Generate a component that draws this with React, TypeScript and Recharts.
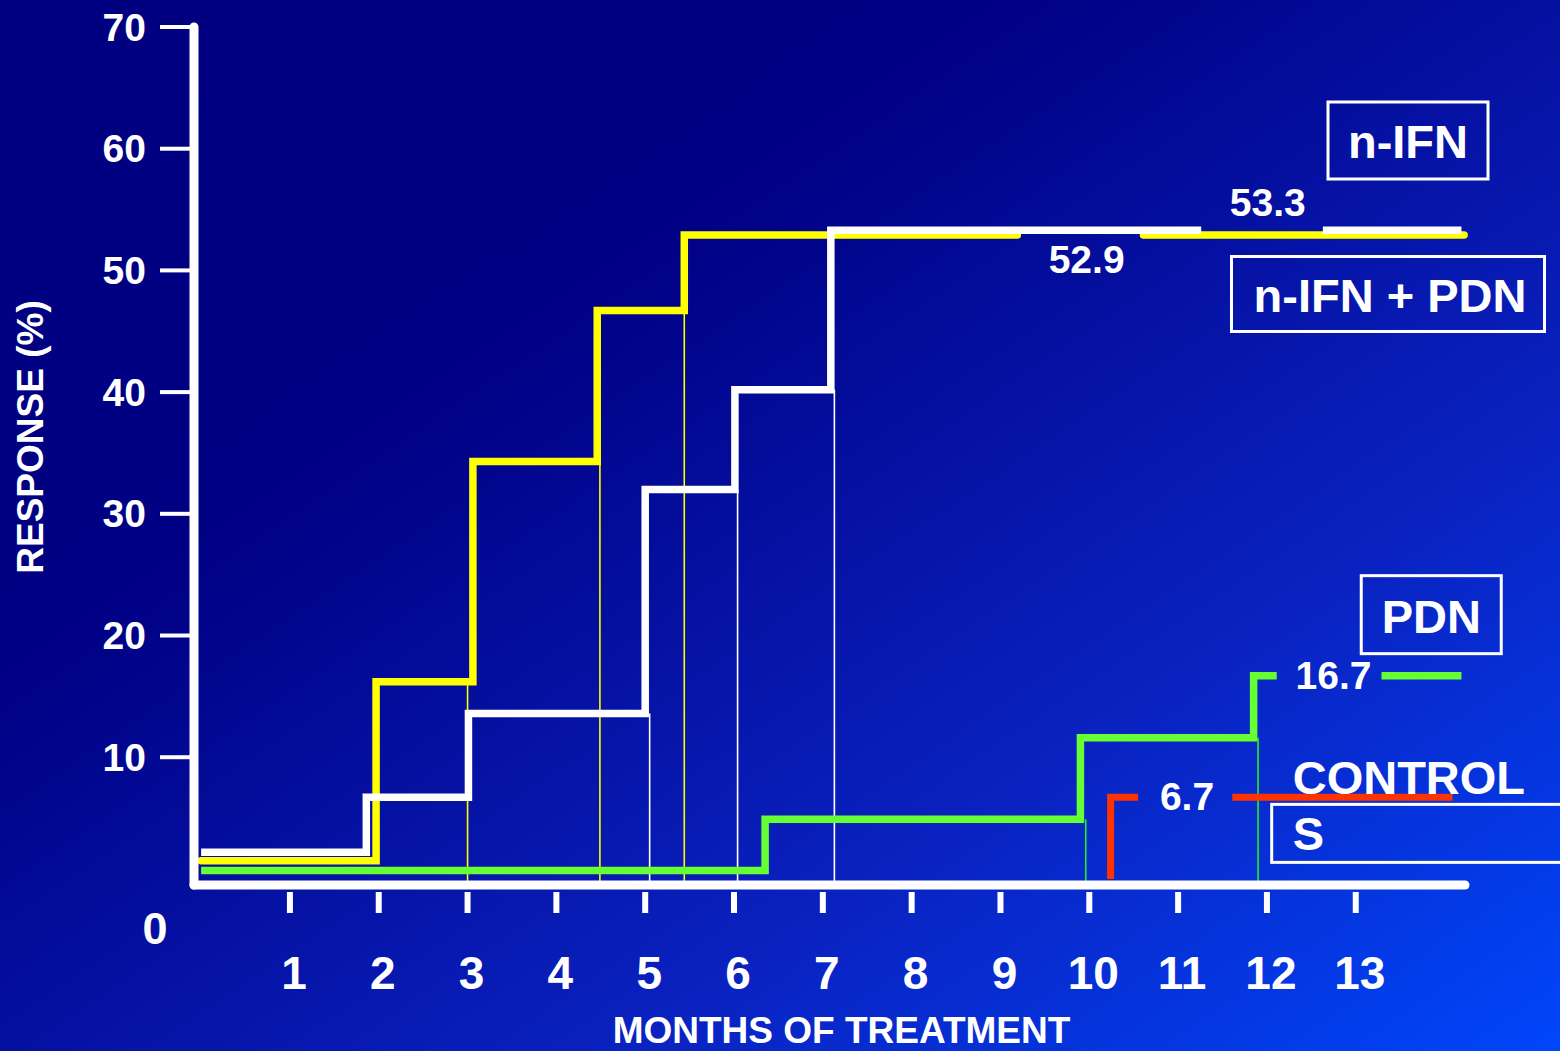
import React from 'react';
import { LineChart, Line, XAxis, YAxis, ReferenceLine, ReferenceDot, Label } from 'recharts';

const W = 1560;
const H = 1051;
const FONT = "'Liberation Sans', Arial, Helvetica, sans-serif";

// Axis ticks
const monthTicks = [1, 2, 3, 4, 5, 6, 7, 8, 9, 10, 11, 12, 13];
const responseTicks = [0, 10, 20, 30, 40, 50, 60, 70];

// Final response of each arm (%)
const nIfnFinal = 53.3;
const comboFinal = 52.9;
const pdnFinal = 16.7;
const controlFinal = 6.7;

// n-IFN (white) — cumulative response by month; null leaves room for the value label
const nIfnMonths = [0, 1.86, 3.01, 5.0, 6.01, 7.09, 11.26, 11.27, 12.63, 14.19];
const nIfnResponse = [2.2, 6.7, 13.6, 32.0, 40.2, nIfnFinal, nIfnFinal, null, nIfnFinal, nIfnFinal];

// n-IFN + PDN (yellow)
const comboMonths = [0, 1.97, 3.06, 4.46, 5.44, 9.19, 9.2, 10.61, 14.22];
const comboResponse = [1.5, 16.2, 34.3, 46.7, comboFinal, comboFinal, null, comboFinal, comboFinal];

// PDN (green)
const pdnMonths = [0, 6.35, 9.9, 11.85, 12.11, 12.12, 13.29, 14.19];
const pdnResponse = [0.7, 4.9, 11.6, pdnFinal, pdnFinal, null, pdnFinal, pdnFinal];

// Controls (red)
const controlMonths = [10.24, 10.24, 10.55, 10.56, 11.61, 14.09];
const controlResponse = [0, controlFinal, controlFinal, null, controlFinal, controlFinal];

// Thin guide lines dropped from the steps down to the month axis
const comboDropMonths = [3.0, 4.49, 5.44];
const comboDropLevels = [16.2, 34.3, 46.7];
const nIfnDropMonths = [5.05, 6.04, 7.13];
const nIfnDropLevels = [13.6, 32.0, 40.2];
const pdnDropMonths = [9.96, 11.9];
const pdnDropLevels = [4.9, 11.6];

const toPoints = (months: number[], values: (number | null)[]) =>
  months.map((month, i) => ({ month, response: values[i] }));

const WHITE = '#ffffff';
const YELLOW = '#ffff00';
const GREEN = '#66ff33';
const THIN_GREEN = '#22ee22';
const RED = '#ff3300';

const txt = {
  fill: WHITE,
  fontFamily: FONT,
  fontWeight: 700,
} as const;

const MonthTick = (props: any) => {
  const { x, y, payload } = props;
  return (
    <g>
      <line x1={x} x2={x} y1={y + 7} y2={y + 28} stroke={WHITE} strokeWidth={6} />
      <text {...txt} x={x + 4} y={y + 88} fontSize={46} textAnchor="middle" dominantBaseline="central">
        {payload.value}
      </text>
    </g>
  );
};

const ResponseTick = (props: any) => {
  const { x, y, payload } = props;
  if (payload.value === 0) {
    return (
      <text {...txt} x={x - 39} y={y + 50} fontSize={45} textAnchor="middle" dominantBaseline="central">
        0
      </text>
    );
  }
  return (
    <g>
      <line x1={x - 34} x2={x - 4} y1={y} y2={y} stroke={WHITE} strokeWidth={4} />
      <text {...txt} x={x - 48} y={y} fontSize={39} textAnchor="end" dominantBaseline="central">
        {payload.value}
      </text>
    </g>
  );
};

const XTitle = (props: any) => {
  const vb = props.viewBox || { x: 194, y: 885, width: 1271, height: 166 };
  return (
    <text {...txt} x={vb.x + vb.width / 2 + 12} y={vb.y + vb.height - 8} fontSize={37} textAnchor="middle">
      MONTHS OF TREATMENT
    </text>
  );
};

const YTitle = (props: any) => {
  const vb = props.viewBox || { x: 0, y: 27, width: 194, height: 858 };
  const cx = vb.x + 43;
  const cy = vb.y + vb.height / 2 - 19;
  return (
    <text {...txt} x={cx} y={cy} fontSize={37} textAnchor="middle" transform={`rotate(-90, ${cx}, ${cy})`}>
      RESPONSE (%)
    </text>
  );
};

const valueText = (text: string, dy: number) => (p: any) => (
  <text {...txt} x={p.cx} y={p.cy + dy} fontSize={39} textAnchor="middle" dominantBaseline="central">
    {text}
  </text>
);

const pdnBox = (p: any) => (
  <g>
    <rect x={p.cx - 70} y={p.cy - 100} width={140} height={78} fill="none" stroke={WHITE} strokeWidth={3} />
    <text {...txt} x={p.cx} y={p.cy - 43} fontSize={47} textAnchor="middle">
      PDN
    </text>
  </g>
);

const controlsLegend = (p: any) => (
  <g>
    <text {...txt} x={p.cx} y={p.cy - 3} fontSize={47}>
      CONTROL
    </text>
    <rect x={p.cx - 21} y={p.cy + 7} width={330} height={58} fill="none" stroke={WHITE} strokeWidth={3} />
    <text {...txt} x={p.cx} y={p.cy + 53} fontSize={47}>
      S
    </text>
  </g>
);

const drops = (months: number[], levels: number[], color: string, key: string) =>
  months.map((m, i) => (
    <ReferenceLine
      key={`${key}-${i}`}
      segment={[
        { x: m, y: levels[i] },
        { x: m, y: -0.5 },
      ]}
      stroke={color}
      strokeWidth={1.6}
      ifOverflow="visible"
    />
  ));

const BG = 'linear-gradient(to bottom right, #000080 0%, #000084 32%, #0a22c0 70%, #0046fa 100%)';

export default function App() {
  return (
    <div style={{ position: 'absolute', left: 0, top: 0, width: W, height: H, background: BG, overflow: 'hidden' }}>
      <LineChart width={W} height={H} margin={{ top: 27, right: 95, bottom: 0, left: 0 }}>
        <XAxis
          type="number"
          dataKey="month"
          domain={[-0.08, 14.23]}
          ticks={monthTicks}
          interval={0}
          height={166}
          tick={(p: any) => <MonthTick {...p} />}
          tickLine={false}
          tickSize={0}
          tickMargin={0}
          axisLine={{ stroke: WHITE, strokeWidth: 9, strokeLinecap: 'round' }}
        >
          <Label content={(p: any) => <XTitle {...p} />} />
        </XAxis>
        <YAxis
          type="number"
          domain={[-0.5, 70]}
          ticks={responseTicks}
          interval={0}
          width={194}
          tick={(p: any) => <ResponseTick {...p} />}
          tickLine={false}
          tickSize={0}
          tickMargin={0}
          axisLine={{ stroke: WHITE, strokeWidth: 9, strokeLinecap: 'round' }}
        >
          <Label content={(p: any) => <YTitle {...p} />} />
        </YAxis>

        {drops(comboDropMonths, comboDropLevels, YELLOW, 'combo')}
        {drops(nIfnDropMonths, nIfnDropLevels, WHITE, 'nifn')}
        {drops(pdnDropMonths, pdnDropLevels, THIN_GREEN, 'pdn')}

        <Line
          data={toPoints(pdnMonths, pdnResponse)}
          dataKey="response"
          type="stepAfter"
          stroke={GREEN}
          strokeWidth={7.5}
          dot={false}
          activeDot={false}
          isAnimationActive={false}
        />
        <Line
          data={toPoints(comboMonths, comboResponse)}
          dataKey="response"
          type="stepAfter"
          stroke={YELLOW}
          strokeWidth={7.5}
          strokeLinecap="round"
          dot={false}
          activeDot={false}
          isAnimationActive={false}
        />
        <Line
          data={toPoints(nIfnMonths, nIfnResponse)}
          dataKey="response"
          type="stepAfter"
          stroke={WHITE}
          strokeWidth={7.5}
          dot={false}
          activeDot={false}
          isAnimationActive={false}
        />
        <Line
          data={toPoints(controlMonths, controlResponse)}
          dataKey="response"
          type="stepAfter"
          stroke={RED}
          strokeWidth={7}
          dot={false}
          activeDot={false}
          isAnimationActive={false}
        />

        <ReferenceDot x={12.01} y={nIfnFinal} r={1} ifOverflow="visible" shape={valueText(nIfnFinal.toFixed(1), -28)} />
        <ReferenceDot x={9.97} y={comboFinal} r={1} ifOverflow="visible" shape={valueText(comboFinal.toFixed(1), 24)} />
        <ReferenceDot x={12.75} y={pdnFinal} r={1} ifOverflow="visible" shape={valueText(pdnFinal.toFixed(1), 0)} />
        <ReferenceDot x={11.1} y={controlFinal} r={1} ifOverflow="visible" shape={valueText(controlFinal.toFixed(1), -1)} />
        <ReferenceDot x={13.85} y={pdnFinal} r={1} ifOverflow="visible" shape={pdnBox} />
        <ReferenceDot x={12.29} y={controlFinal} r={1} ifOverflow="visible" shape={controlsLegend} />
      </LineChart>

      <svg width={W} height={H} style={{ position: 'absolute', left: 0, top: 0, pointerEvents: 'none' }}>
        <rect x={1328} y={102} width={160} height={77} fill="none" stroke={WHITE} strokeWidth={3} />
        <text {...txt} x={1408} y={158} fontSize={47} textAnchor="middle">
          n-IFN
        </text>
        <rect x={1231.5} y={256.5} width={313} height={75} fill="none" stroke={WHITE} strokeWidth={3} />
        <text {...txt} x={1390} y={312} fontSize={47} textAnchor="middle">
          n-IFN + PDN
        </text>
      </svg>
    </div>
  );
}
